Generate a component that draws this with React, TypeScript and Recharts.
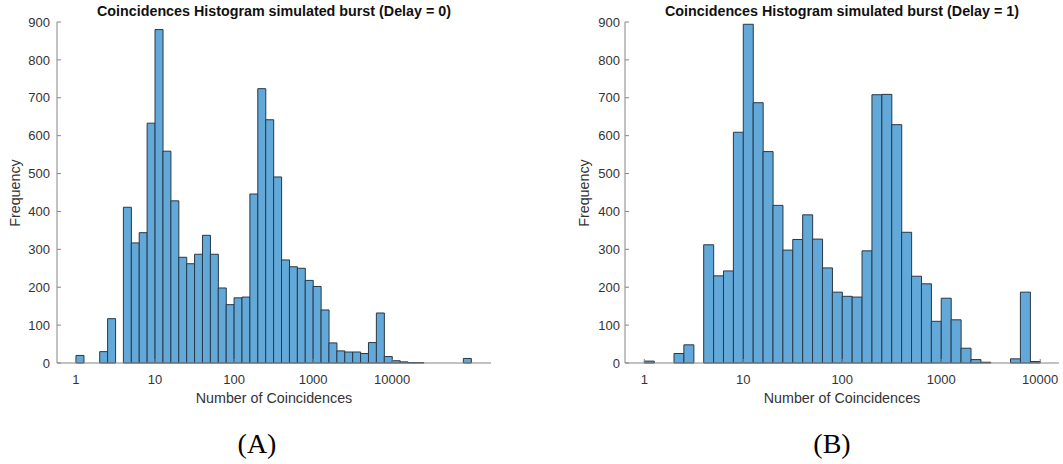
import { Bar, BarChart, XAxis, YAxis } from 'recharts'

// Histogram bins are 0.1 wide in log10(coincidences), starting at 10^0 = 1
const BIN_WIDTH = 0.1
const BIN_START = 0

const delay0Counts = [
  20, 0, 0, 30, 117, 0, 411, 317, 344, 633,
  880, 559, 428, 279, 262, 287, 337, 287, 198, 154,
  172, 174, 446, 724, 642, 491, 272, 254, 250, 218,
  202, 140, 53, 32, 29, 29, 25, 54, 132, 17,
  6, 3, 1, 1, 0, 0, 0, 0, 0, 12,
]

const delay1Counts = [
  5, 0, 0, 25, 48, 0, 312, 230, 243, 609,
  894, 687, 558, 416, 298, 326, 391, 327, 251, 187,
  176, 174, 296, 708, 709, 629, 345, 229, 209, 110,
  171, 114, 39, 9, 2, 0, 0, 11, 187, 4,
]

const xTicks = [0, 1, 2, 3, 4] // log10 positions of 1, 10, 100, 1000, 10000
const yTicks = [0, 100, 200, 300, 400, 500, 600, 700, 800, 900]

const FONT = '"Liberation Sans", Arial, Helvetica, sans-serif'
const AXIS_COLOR = '#858585'
const TEXT_COLOR = '#333333'
const BAR_FILL = '#62a8d8'
const BAR_EDGE = '#293846'

const PLOT_TOP = 22
const PLOT_BOTTOM = 363
const HEIGHT = 464

function toRows(counts: number[]) {
  return counts.map((count, i) => ({
    x: BIN_START + (i + 0.5) * BIN_WIDTH,
    count,
  }))
}

const formatDecade = (v: number) => String(Math.round(10 ** v))

type PanelProps = {
  counts: number[]
  title: string
  letter: string
  left: number
  width: number
  domain: [number, number]
  yAxisWidth: number
  yTickGap: number
  letterX: number
  yLabelX: number
}

function HistPanel({ counts, title, letter, left, width, domain, yAxisWidth, yTickGap, letterX, yLabelX }: PanelProps) {
  const rows = toRows(counts)
  const rightMargin = 4
  const plotLeft = left + yAxisWidth
  const plotRight = left + width - rightMargin
  const plotCenter = (plotLeft + plotRight) / 2
  const xAxisHeight = 30
  const tickStyle = { fill: TEXT_COLOR, fontSize: 13, fontFamily: FONT }

  return (
    <>
      <div style={{ position: 'absolute', left, top: 0 }}>
        <BarChart
          width={width}
          height={HEIGHT}
          data={rows}
          margin={{ top: PLOT_TOP, right: rightMargin, bottom: HEIGHT - PLOT_BOTTOM - xAxisHeight, left: 0 }}
          barCategoryGap={0}
          barGap={0}
        >
          <XAxis
            xAxisId="bottom"
            dataKey="x"
            type="number"
            domain={domain}
            allowDataOverflow
            ticks={xTicks}
            interval={0}
            tickFormatter={formatDecade}
            height={xAxisHeight}
            tickSize={-4}
            tickMargin={16}
            stroke={AXIS_COLOR}
            tick={tickStyle}
          />
          <XAxis
            xAxisId="top"
            orientation="top"
            dataKey="x"
            type="number"
            domain={domain}
            allowDataOverflow
            ticks={xTicks}
            interval={0}
            height={0}
            tickSize={-4}
            tick={false}
            stroke={AXIS_COLOR}
          />
          <YAxis
            yAxisId="left"
            domain={[0, 900]}
            ticks={yTicks}
            interval={0}
            width={yAxisWidth}
            tickSize={-4}
            tickMargin={yTickGap + 4}
            stroke={AXIS_COLOR}
            tick={tickStyle}
          />
          <YAxis
            yAxisId="right"
            orientation="right"
            domain={[0, 900]}
            ticks={yTicks}
            interval={0}
            width={0}
            tickSize={-4}
            tick={false}
            stroke={AXIS_COLOR}
          />
          <Bar
            xAxisId="bottom"
            yAxisId="left"
            dataKey="count"
            fill={BAR_FILL}
            stroke={BAR_EDGE}
            strokeWidth={1}
            isAnimationActive={false}
          />
        </BarChart>
      </div>

      <div
        style={{
          position: 'absolute',
          left: plotCenter - 250,
          width: 500,
          top: 3,
          textAlign: 'center',
          fontFamily: FONT,
          fontWeight: 'bold',
          fontSize: 14.3,
          lineHeight: '16px',
          color: '#111',
          whiteSpace: 'nowrap',
        }}
      >
        {title}
      </div>

      <div
        style={{
          position: 'absolute',
          left: yLabelX - 100,
          width: 200,
          top: (PLOT_TOP + PLOT_BOTTOM) / 2 - 8,
          height: 16,
          lineHeight: '16px',
          textAlign: 'center',
          fontFamily: FONT,
          fontSize: 14.3,
          color: TEXT_COLOR,
          transform: 'rotate(-90deg)',
        }}
      >
        Frequency
      </div>

      <div
        style={{
          position: 'absolute',
          left: plotCenter - 150,
          width: 300,
          top: 390,
          textAlign: 'center',
          fontFamily: FONT,
          fontSize: 14.3,
          lineHeight: '16px',
          color: TEXT_COLOR,
        }}
      >
        Number of Coincidences
      </div>

      <div
        style={{
          position: 'absolute',
          left: letterX - 50,
          width: 100,
          top: 428,
          textAlign: 'center',
          fontFamily: '"Liberation Serif", "Times New Roman", serif',
          fontSize: 28,
          lineHeight: '31px',
          color: '#000',
        }}
      >
        {letter}
      </div>
    </>
  )
}

export default function App() {
  return (
    <div
      style={{
        position: 'absolute',
        left: 0,
        top: 0,
        width: 1063,
        height: HEIGHT,
        background: '#fff',
        overflow: 'hidden',
      }}
    >
      <HistPanel
        counts={delay0Counts}
        title="Coincidences Histogram simulated burst (Delay = 0)"
        letter="(A)"
        left={0}
        width={495}
        domain={[-0.24, 5.25]}
        yAxisWidth={57}
        yTickGap={7}
        letterX={257}
        yLabelX={15}
      />
      <HistPanel
        counts={delay1Counts}
        title="Coincidences Histogram simulated burst (Delay = 1)"
        letter="(B)"
        left={565}
        width={498}
        domain={[-0.195, 4.19]}
        yAxisWidth={60}
        yTickGap={5}
        letterX={832}
        yLabelX={584}
      />
    </div>
  )
}
